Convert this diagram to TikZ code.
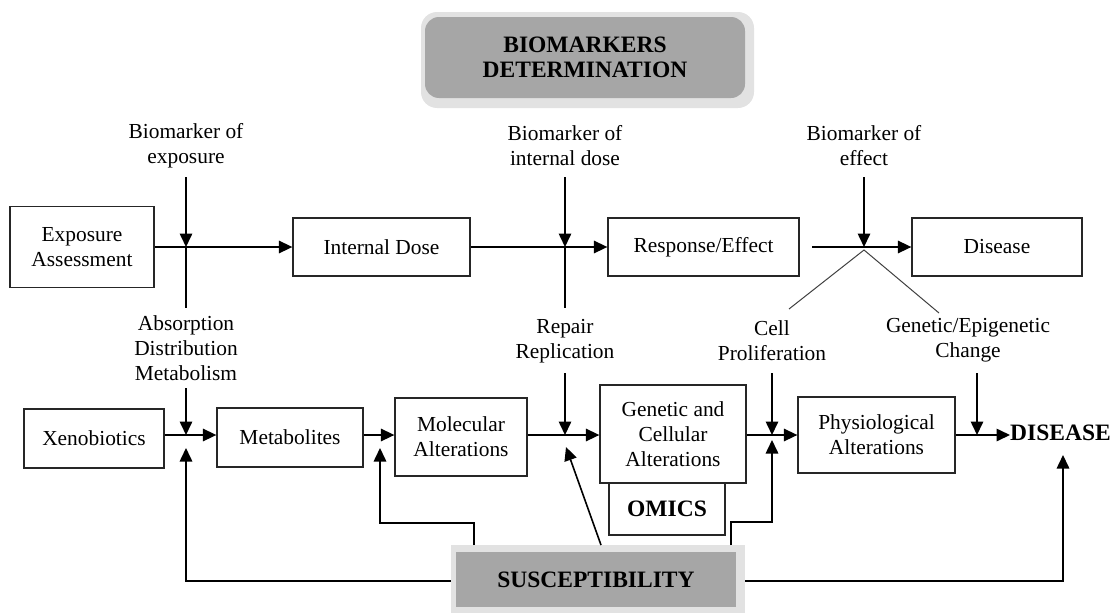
\documentclass[tikz,border=0pt]{standalone}
\usepackage{fontspec}
\setmainfont{Liberation Serif}
\usetikzlibrary{arrows.meta}
\definecolor{boxgray}{RGB}{166,166,166}
\definecolor{framegray}{RGB}{226,226,226}
\begin{document}
\begin{tikzpicture}[x=1pt,y=-1pt,
  txt/.style={font=\fontsize{21.4}{25}\selectfont, align=center, inner sep=0pt},
  stagebox/.style={txt, draw=black!85, line width=1.3pt, fill=white},
  boldtxt/.style={font=\fontsize{23.5}{25}\selectfont\bfseries, align=center, inner sep=0pt},
  arr/.style={line width=1.6pt, -{Triangle[length=13.5pt,width=12.5pt]}},
  ln/.style={line width=1.6pt},
  thinln/.style={line width=1pt, black!75}]
\useasboundingbox (0,0) rectangle (1110,613);

% header
\node[fill=framegray, rounded corners=16pt, minimum width=333pt, minimum height=96pt, inner sep=0pt] (bmframe) at (587.5,60) {};
\node[boldtxt, fill=boxgray, rounded corners=14pt, minimum width=320pt, minimum height=81pt] (bm) at (585,57.5) {BIOMARKERS\\DETERMINATION};

% top row
\node[stagebox, minimum width=144pt, minimum height=81pt] (ea) at (82,247) {Exposure\\Assessment};
\node[stagebox, minimum width=177pt, minimum height=58pt] (id) at (381.5,247) {Internal Dose};
\node[stagebox, minimum width=191pt, minimum height=58pt] (re) at (703.5,247) {Response/Effect};
\node[stagebox, minimum width=170pt, minimum height=58pt] (di) at (997,247) {Disease};

\node[txt] (bexp) at (186,145.5) {Biomarker of\\exposure};
\node[txt] (bint) at (565,145.5) {Biomarker of\\internal dose};
\node[txt] (beff) at (864,145.5) {Biomarker of\\effect};

\coordinate (j1) at (186,247);
\coordinate (j1t) at (186,177);
\coordinate (j1b) at (186,308);
\coordinate (j2) at (565,247);
\coordinate (j2t) at (565,177);
\coordinate (j2b) at (565,308);
\coordinate (j3) at (864,247);
\coordinate (j3t) at (864,177);
\coordinate (j3s) at (812,247);
\coordinate (j3v) at (864,250);
\coordinate (vl) at (789,309);
\coordinate (vr) at (939,313);

\draw[arr] (ea.east |- j1) -- (id.west |- j1);
\draw[arr] (j1t) -- (j1);
\draw[ln] (j1) -- (j1b);
\draw[arr] (id.east |- j2) -- (re.west |- j2);
\draw[arr] (j2t) -- (j2);
\draw[ln] (j2) -- (j2b);
\draw[arr] (j3s) -- (di.west |- j3);
\draw[arr] (j3t) -- (j3);
\draw[thinln] (vl) -- (j3v) -- (vr);

% labels between rows
\node[txt] (adm) at (186,348) {Absorption\\Distribution\\Metabolism};
\node[txt] (rr) at (565,341.5) {Repair\\Replication};
\node[txt] (cp) at (772,340.5) {Cell\\Proliferation};
\node[txt] (ge) at (968,340.5) {Genetic/Epigenetic\\Change};

% bottom row
\node[stagebox, minimum width=140pt, minimum height=59pt] (xe) at (94,438.5) {Xenobiotics};
\node[stagebox, minimum width=146pt, minimum height=59pt] (me) at (290,437.5) {Metabolites};
\node[stagebox, minimum width=132pt, minimum height=78pt] (mo) at (461,437) {Molecular\\Alterations};
\node[stagebox, minimum width=116pt, minimum height=52pt] (om) at (667,509) {\fontsize{23.5}{25}\selectfont\bfseries OMICS};
\node[stagebox, minimum width=146pt, minimum height=98pt] (gc) at (673,434) {Genetic and\\Cellular\\Alterations};
\node[stagebox, minimum width=157pt, minimum height=76pt] (ph) at (876.5,435) {Physiological\\Alterations};
\node[boldtxt, anchor=west] (dis) at (1010,433) {DISEASE};

\node[fill=framegray, minimum width=294pt, minimum height=68pt, inner sep=0pt] (susframe) at (598,579) {};
\node[boldtxt, fill=boxgray, minimum width=280pt, minimum height=55pt] (sus) at (596,579.5) {SUSCEPTIBILITY};

\coordinate (k1) at (186,435);
\coordinate (k1t) at (186,388);
\coordinate (k1u) at (186,448);
\coordinate (k1b) at (186,581);
\coordinate (k2) at (380,435);
\coordinate (k2u) at (380,448);
\coordinate (k2c) at (380,523);
\coordinate (s1) at (474,545);
\coordinate (k3) at (565,435);
\coordinate (k3t) at (565,373);
\coordinate (k3u) at (566,447);
\coordinate (s2) at (601,545);
\coordinate (k4) at (772,435);
\coordinate (k4t) at (772,373);
\coordinate (k4u) at (772,440);
\coordinate (k4c) at (772,522);
\coordinate (s3) at (731,545);
\coordinate (k5) at (977,435);
\coordinate (k5t) at (977,373);
\coordinate (k6) at (1063,455);
\coordinate (k6b) at (1063,581);

\draw[arr] (xe.east |- k1) -- (me.west |- k1);
\draw[arr] (k1t) -- (k1);
\draw[arr] (susframe.west |- k1b) -- (k1b) -- (k1u);

\draw[arr] (me.east |- k2) -- (mo.west |- k2);
\draw[arr] (s1) |- (k2c) -- (k2u);

\draw[arr] (mo.east |- k3) -- (gc.west |- k3);
\draw[arr] (k3t) -- (k3);
\draw[arr] (s2) -- (k3u);

\draw[arr] (gc.east |- k4) -- (ph.west |- k4);
\draw[arr] (k4t) -- (k4);
\draw[arr] (s3) |- (k4c) -- (k4u);

\draw[arr] (ph.east |- k5) -- (dis.west |- k5);
\draw[arr] (k5t) -- (k5);
\draw[arr] (susframe.east |- k6b) -- (k6b) -- (k6);
\end{tikzpicture}
\end{document}
